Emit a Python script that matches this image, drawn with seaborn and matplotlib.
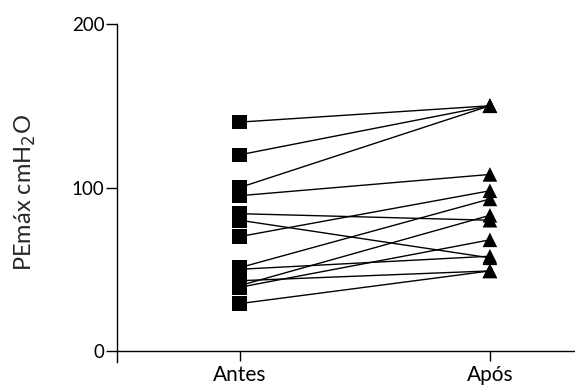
"""
paired PEmax before/after plot
"""

import numpy as np
import pandas as pd
import matplotlib
matplotlib.use('Agg')
import matplotlib.pyplot as plt
import seaborn as sns

times = ['Antes', 'Após']
antes = [140, 120, 100, 95, 84, 80, 70, 51, 50, 43, 40, 39, 29]
apos = [150, 150, 150, 108, 80, 57, 98, 93, 58, 49, 83, 68, 49]
y_ticks = [0, 100, 200]

n = len(antes)
df = pd.DataFrame({
    'subject': list(range(n)) * 2,
    'time': [times[0]] * n + [times[1]] * n,
    'value': antes + apos,
})
df['pos'] = df['time'].map({t: i for i, t in enumerate(times)})

sns.set_style('ticks')
plt.rcParams['font.family'] = ['Lato', 'DejaVu Sans']

fig = plt.figure(figsize=(5.75, 3.89), dpi=100)
ax = fig.add_axes([0.2035, 0.0694, 0.7965, 0.8689])

sns.lineplot(data=df, x='pos', y='value', units='subject', estimator=None,
             color='black', linewidth=1.0, ax=ax, legend=False)
sns.scatterplot(data=df, x='pos', y='value', style='time',
                markers={'Antes': 's', 'Após': '^'}, color='black',
                s=110, edgecolor='none', ax=ax, legend=False, zorder=3)

ax.set_xlim(-0.49, 1.34)
ax.set_ylim(-6.7, 200)
ax.set_xticks(range(len(times)))
ax.set_xticklabels(times)
ax.set_yticks(y_ticks)
ax.spines['top'].set_visible(False)
ax.spines['right'].set_visible(False)
ax.spines['bottom'].set_position(('data', 0))
for s in ['left', 'bottom']:
    ax.spines[s].set_linewidth(1.0)
    ax.spines[s].set_color('black')
ax.tick_params(axis='y', length=8, width=1.0, labelsize=13.5, pad=1, colors='black')
ax.tick_params(axis='x', length=7, width=1.0, labelsize=15, pad=3, colors='black')
ax.set_xlabel('')
ax.set_ylabel('PEmáx cmH$_2$O', fontsize=17, labelpad=24)

fig.savefig('out.png', dpi=100)
